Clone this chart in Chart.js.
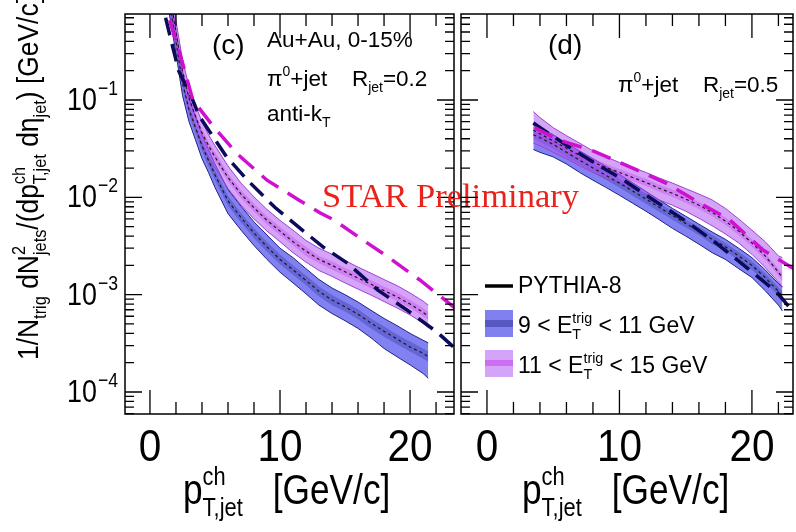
<!DOCTYPE html>
<html>
<head>
<meta charset="utf-8">
<script src="https://cdn.jsdelivr.net/npm/chart.js@4.4.1/dist/chart.umd.min.js"></script>
<style>
  body { margin: 0; background: #fff; overflow: hidden; }
  canvas { position: absolute; left: 0; top: 0; }
</style>
</head>
<body>
<canvas id="c1" width="796" height="532"></canvas>
<canvas id="c2" width="796" height="532"></canvas>
<script>
// --- panel (c): R_jet = 0.2 ---
const xC = [1.4, 2, 2.5, 3, 3.5, 4, 4.5, 5, 6, 7, 8, 9, 10, 11, 12, 13, 14, 15, 16, 17, 18, 19, 20, 21, 21.4];
const blueC     = [1.2, 0.40, 0.15, 0.08, 0.052, 0.034, 0.024, 0.017, 0.0092, 0.0062, 0.0043, 0.0031, 0.0023, 0.0018, 0.0014, 0.00108, 0.00088, 0.00075, 0.00063, 0.00051, 0.00042, 0.00035, 0.00029, 0.00025, 0.00023];
const blueCHi   = [1.6, 0.52, 0.195, 0.104, 0.068, 0.044, 0.031, 0.022, 0.012, 0.0081, 0.0056, 0.0041, 0.0030, 0.0024, 0.00185, 0.00143, 0.00117, 0.001, 0.00084, 0.00069, 0.00057, 0.00048, 0.0004, 0.00034, 0.00032];
const blueCLo   = [0.9, 0.30, 0.112, 0.06, 0.039, 0.025, 0.018, 0.0126, 0.0068, 0.0046, 0.0032, 0.0023, 0.0017, 0.00132, 0.00102, 0.00078, 0.00064, 0.00054, 0.00045, 0.00036, 0.00028, 0.00023, 0.00019, 0.000155, 0.000138];
const blueCInHi = [1.35, 0.45, 0.168, 0.09, 0.058, 0.038, 0.027, 0.019, 0.0103, 0.0069, 0.0048, 0.00347, 0.00258, 0.002, 0.00157, 0.00121, 0.00099, 0.00084, 0.00071, 0.00057, 0.00047, 0.00039, 0.00033, 0.00028, 0.00026];
const blueCInLo = [1.07, 0.357, 0.134, 0.071, 0.046, 0.03, 0.021, 0.015, 0.0082, 0.0055, 0.0038, 0.00276, 0.00205, 0.0016, 0.00125, 0.00096, 0.00078, 0.00067, 0.00056, 0.00045, 0.00037, 0.00031, 0.00026, 0.00022, 0.000205];
const pinkC     = [1.5, 0.5, 0.2, 0.105, 0.068, 0.046, 0.034, 0.026, 0.016, 0.0108, 0.0078, 0.0058, 0.0045, 0.0035, 0.0028, 0.0023, 0.002, 0.00172, 0.00148, 0.00128, 0.0011, 0.00095, 0.0008, 0.00066, 0.0006];
const pinkCHi   = [1.95, 0.65, 0.26, 0.137, 0.088, 0.06, 0.044, 0.034, 0.021, 0.014, 0.0101, 0.0075, 0.0058, 0.0046, 0.0036, 0.003, 0.0026, 0.00224, 0.00192, 0.00166, 0.00143, 0.00124, 0.00104, 0.00086, 0.00078];
const pinkCLo   = [1.15, 0.385, 0.154, 0.081, 0.052, 0.035, 0.026, 0.02, 0.0123, 0.0083, 0.006, 0.0045, 0.0035, 0.0027, 0.00216, 0.00177, 0.00154, 0.00132, 0.00114, 0.00099, 0.00085, 0.00073, 0.00062, 0.00051, 0.00046];
const pinkCInHi = [1.65, 0.55, 0.22, 0.116, 0.075, 0.051, 0.037, 0.029, 0.0176, 0.0119, 0.0086, 0.0064, 0.005, 0.0039, 0.0031, 0.0025, 0.0022, 0.00189, 0.00163, 0.00141, 0.00121, 0.00105, 0.00088, 0.00073, 0.00066];
const pinkCInLo = [1.36, 0.455, 0.182, 0.095, 0.062, 0.042, 0.031, 0.0236, 0.0145, 0.0098, 0.0071, 0.0053, 0.0041, 0.0032, 0.0025, 0.0021, 0.0018, 0.00156, 0.00135, 0.00116, 0.001, 0.00086, 0.00073, 0.0006, 0.00055];
// PYTHIA-8, panel (c)
const navyCx = [1.2, 2.2, 3.2, 3.8, 5.9, 7.5, 9.6, 11.9, 13.3, 15.2, 17.5, 19.8, 22.1, 23.6];
const navyCy = [0.7, 0.2, 0.107, 0.068, 0.026, 0.015, 0.0079, 0.0044, 0.0031, 0.0021, 0.00112, 0.00069, 0.00041, 0.00027];
const magCx = [1.5, 2.3, 3.3, 4.8, 6.7, 9.0, 11.5, 13.1, 14.1, 16.7, 18.2, 20.8, 23.5];
const magCy = [0.66, 0.3, 0.1, 0.055, 0.028, 0.015, 0.0093, 0.0069, 0.0059, 0.0034, 0.0025, 0.0014, 0.00072];

// --- panel (d): R_jet = 0.5 ---
const xD = [3.5, 4, 5, 6, 7, 8, 9, 10, 11, 12, 13, 14, 15, 16, 17, 18, 19, 20, 21, 22, 22.3];
const blueD     = [0.044, 0.041, 0.035, 0.029, 0.024, 0.02, 0.0168, 0.014, 0.0116, 0.0096, 0.0079, 0.0065, 0.0054, 0.0045, 0.0037, 0.0031, 0.0025, 0.002, 0.0015, 0.00108, 0.00097];
const blueDHi   = [0.056, 0.052, 0.044, 0.036, 0.030, 0.025, 0.0208, 0.0172, 0.0141, 0.0115, 0.0094, 0.0077, 0.0064, 0.0053, 0.0044, 0.0037, 0.003, 0.0024, 0.0018, 0.0013, 0.0012];
const blueDLo   = [0.031, 0.029, 0.026, 0.022, 0.018, 0.015, 0.0126, 0.0105, 0.0087, 0.0072, 0.0059, 0.0048, 0.004, 0.0033, 0.0027, 0.0023, 0.00185, 0.0015, 0.0011, 0.00078, 0.00068];
const blueDInHi = [0.048, 0.045, 0.0385, 0.032, 0.0264, 0.022, 0.0185, 0.0154, 0.0128, 0.0106, 0.0087, 0.0072, 0.0059, 0.005, 0.0041, 0.0034, 0.00275, 0.0022, 0.00165, 0.00119, 0.00107];
const blueDInLo = [0.04, 0.037, 0.0315, 0.026, 0.0216, 0.018, 0.0151, 0.0126, 0.0104, 0.0086, 0.0071, 0.0059, 0.0049, 0.0041, 0.0033, 0.0028, 0.00225, 0.0018, 0.00135, 0.00097, 0.00087];
const pinkD     = [0.049, 0.045, 0.038, 0.032, 0.027, 0.023, 0.0202, 0.018, 0.016, 0.0142, 0.0124, 0.011, 0.0096, 0.0083, 0.007, 0.0057, 0.0045, 0.0034, 0.0025, 0.0017, 0.0015];
const pinkDHi   = [0.076, 0.066, 0.052, 0.043, 0.036, 0.030, 0.026, 0.0228, 0.0203, 0.018, 0.0158, 0.014, 0.0123, 0.0108, 0.0094, 0.0077, 0.006, 0.0046, 0.0035, 0.0025, 0.0024];
const pinkDLo   = [0.036, 0.034, 0.029, 0.025, 0.021, 0.018, 0.0158, 0.0141, 0.0125, 0.0108, 0.0094, 0.0083, 0.0072, 0.0061, 0.0051, 0.0042, 0.0034, 0.0026, 0.0019, 0.00135, 0.0012];
const pinkDInHi = [0.0534, 0.049, 0.0414, 0.0349, 0.0294, 0.0251, 0.022, 0.0196, 0.0174, 0.0155, 0.0135, 0.012, 0.0105, 0.009, 0.0076, 0.0062, 0.0049, 0.0037, 0.0027, 0.00185, 0.00164];
const pinkDInLo = [0.045, 0.0414, 0.035, 0.0294, 0.0248, 0.0212, 0.0186, 0.0166, 0.0147, 0.0131, 0.0114, 0.0101, 0.0088, 0.0076, 0.0064, 0.0052, 0.0041, 0.0031, 0.0023, 0.00156, 0.00138];
// PYTHIA-8, panel (d)
const navyDx = [3.5, 5.5, 7.8, 10.3, 12.5, 15.1, 17.4, 19.6, 21.9, 23.3];
const navyDy = [0.058, 0.038, 0.024, 0.0151, 0.0095, 0.0056, 0.0033, 0.0019, 0.00105, 0.00062];
const magDx = [3.6, 5.4, 8.0, 11.0, 13.5, 16.1, 18.3, 20.8, 23.3];
const magDy = [0.052, 0.039, 0.030, 0.020, 0.014, 0.0087, 0.0059, 0.0029, 0.0018];

// ticks
const xTickLabels = [0, 10, 20];
const yTickExps = [-1, -2, -3, -4];

const FONT = '"Liberation Sans", Arial, Helvetica, sans-serif';
const SERIF = '"Liberation Serif", "Times New Roman", serif';

const BLUE_FILL = 'rgba(75,75,235,0.70)';
const BLUE_IN = 'rgba(30,30,140,0.28)';
const BLUE_EDGE = '#20208a';
const PINK_FILL = 'rgba(175,90,240,0.55)';
const PINK_IN = 'rgba(200,60,235,0.35)';
const PINK_EDGE = '#a040d0';
const NONE = 'rgba(0,0,0,0)';

function pts(xs, ys) {
    return xs.map((x, i) => ({ x: x, y: ys[i] }));
}

// two datasets, the second one filled down to the first
function band(xs, lo, hi, edge, col, order) {
    return [
        { data: pts(xs, lo), borderColor: edge, borderWidth: 1, fill: false, order: order },
        { data: pts(xs, hi), borderColor: edge, borderWidth: 1, backgroundColor: col, fill: '-1', order: order }
    ];
}

function dotted(xs, ys) {
    return { data: pts(xs, ys), borderColor: '#1a1a1a', borderWidth: 1.2, borderDash: [3, 3], fill: false, order: 3 };
}

function dashed(xs, ys, col, dash, order) {
    return { data: pts(xs, ys), borderColor: col, borderWidth: 3.5, borderDash: dash, fill: false, order: order };
}

function drawRich(ctx, parts, x, y, F, hs, align) {
    const fs = F * 0.62;
    ctx.save();
    const wOf = (s, size) => { ctx.font = size + 'px ' + FONT; return ctx.measureText(s).width; };
    const widths = parts.map(p => {
        if (typeof p === 'string') return wOf(p, F);
        if (p.gap) return p.gap / hs;
        return Math.max(p.sup ? wOf(p.sup, fs) : 0, p.sub ? wOf(p.sub, fs) : 0);
    });
    const total = widths.reduce((a, b) => a + b, 0) * hs;
    const x0 = align === 'center' ? x - total / 2 : (align === 'right' ? x - total : x);
    ctx.translate(x0, y);
    ctx.scale(hs, 1);
    ctx.textAlign = 'left';
    ctx.textBaseline = 'alphabetic';
    let cx = 0;
    parts.forEach((p, i) => {
        if (typeof p === 'string') {
            ctx.font = F + 'px ' + FONT;
            ctx.fillText(p, cx, 0);
        } else if (!p.gap) {
            ctx.font = fs + 'px ' + FONT;
            if (p.sup) ctx.fillText(p.sup, cx, -F * 0.45);
            if (p.sub) ctx.fillText(p.sub, cx, F * 0.28);
        }
        cx += widths[i];
    });
    ctx.restore();
}

const framePlugin = {
    id: 'frame',
    afterDraw(chart) {
        const { ctx, chartArea: a, scales: { x, y } } = chart;
        ctx.save();
        ctx.strokeStyle = '#000';
        ctx.lineWidth = 1.5;
        ctx.strokeRect(a.left, a.top, a.right - a.left, a.bottom - a.top);
        ctx.lineWidth = 1.3;
        ctx.beginPath();
        for (let e = -5; e <= 0; e++) {
            for (let k = 1; k <= 9; k++) {
                const v = k * Math.pow(10, e);
                if (v < y.min || v > y.max) continue;
                const py = y.getPixelForValue(v);
                const len = k === 1 ? 17 : 9;
                ctx.moveTo(a.left, py); ctx.lineTo(a.left + len, py);
                ctx.moveTo(a.right, py); ctx.lineTo(a.right - len, py);
            }
        }
        for (let v = -2; v <= 24; v += 2) {
            if (v < x.min || v > x.max) continue;
            const px = x.getPixelForValue(v);
            const len = v % 10 === 0 ? 24 : 12;
            ctx.moveTo(px, a.bottom); ctx.lineTo(px, a.bottom - len);
            ctx.moveTo(px, a.top); ctx.lineTo(px, a.top + len);
        }
        ctx.stroke();

        ctx.fillStyle = '#000';
        xTickLabels.forEach(v => {
            drawRich(ctx, [String(v)], x.getPixelForValue(v), 461, 45, 0.9, 'center');
        });
        const lx = chart.canvas.id === 'c1' ? 183 : 522;
        drawRich(ctx, ['p', { sup: 'ch', sub: 'T,jet' }, { gap: 30 }, '[GeV/c]'], lx, 504, 42, 0.84, 'left');

        if (chart.canvas.id === 'c1') {
            yTickExps.forEach(e => {
                const py = y.getPixelForValue(Math.pow(10, e));
                drawRich(ctx, ['10'], 97, py + 10, 32, 0.84, 'right');
                drawRich(ctx, ['\u2212' + Math.abs(e)], 98, py - 5, 21, 0.84, 'left');
            });
            ctx.save();
            ctx.translate(38, 360);
            ctx.rotate(-Math.PI / 2);
            drawRich(ctx, ['1/N', { sub: 'trig' }, ' dN', { sup: '2', sub: 'jets' }, '/(dp', { sup: 'ch', sub: 'T,jet' },
                ' d\u03b7', { sub: 'jet' }, ') [GeV/c]', { sup: '\u22121' }], 0, 0, 30, 0.88, 'left');
            ctx.restore();
        }
        ctx.restore();
    }
};

const labelsC = {
    id: 'labelsC',
    afterDraw(chart) {
        const ctx = chart.ctx;
        ctx.save();
        ctx.fillStyle = '#000';
        drawRich(ctx, ['(c)'], 212, 54, 28, 1, 'left');
        drawRich(ctx, ['Au+Au, 0-15%'], 267, 47, 22.5, 1, 'left');
        drawRich(ctx, ['\u03c0', { sup: '0' }, '+jet'], 267, 86, 22.5, 1, 'left');
        drawRich(ctx, ['R', { sub: 'jet' }, '=0.2'], 352, 86, 22.5, 1, 'left');
        drawRich(ctx, ['anti-k', { sub: 'T' }], 267, 121, 22.5, 1, 'left');
        ctx.restore();
    }
};

const labelsD = {
    id: 'labelsD',
    afterDatasetsDraw(chart) {
        const ctx = chart.ctx;
        ctx.save();
        ctx.fillStyle = '#e8231c';
        ctx.font = '34.5px ' + SERIF;
        ctx.textBaseline = 'alphabetic';
        ctx.fillText('STAR Preliminary', 322, 207);
        ctx.restore();
    },
    afterDraw(chart) {
        const ctx = chart.ctx;
        ctx.save();
        ctx.fillStyle = '#000';
        drawRich(ctx, ['(d)'], 548, 54, 28, 1, 'left');
        drawRich(ctx, ['\u03c0', { sup: '0' }, '+jet'], 618, 92, 22.5, 1, 'left');
        drawRich(ctx, ['R', { sub: 'jet' }, '=0.5'], 703, 92, 22.5, 1, 'left');

        // legend
        ctx.strokeStyle = '#000';
        ctx.lineWidth = 3.5;
        ctx.beginPath(); ctx.moveTo(485, 286); ctx.lineTo(513, 286); ctx.stroke();
        ctx.fillStyle = 'rgb(128,128,240)';
        ctx.fillRect(485, 310, 28, 27);
        ctx.fillStyle = 'rgb(88,88,195)';
        ctx.fillRect(485, 320, 28, 7);
        ctx.fillStyle = 'rgb(211,164,247)';
        ctx.fillRect(485, 350, 28, 27);
        ctx.fillStyle = 'rgb(205,110,242)';
        ctx.fillRect(485, 360, 28, 6);
        ctx.fillStyle = '#000';
        drawRich(ctx, ['PYTHIA-8'], 518, 293, 23, 1, 'left');
        drawRich(ctx, ['9 < E', { sup: 'trig', sub: 'T' }, ' < 11 GeV'], 518, 333, 23, 1, 'left');
        drawRich(ctx, ['11 < E', { sup: 'trig', sub: 'T' }, ' < 15 GeV'], 518, 373, 23, 1, 'left');
        ctx.restore();
    }
};

function makeChart(id, xMin, xMax, padL, padR, datasets, extra) {
    return new Chart(document.getElementById(id), {
        type: 'line',
        data: { datasets: datasets },
        options: {
            responsive: false,
            animation: false,
            devicePixelRatio: 1,
            layout: { padding: { left: padL, right: padR, top: 14, bottom: 118 } },
            elements: { point: { radius: 0 }, line: { tension: 0 } },
            plugins: { legend: { display: false }, tooltip: { enabled: false } },
            scales: {
                x: { type: 'linear', min: xMin, max: xMax, display: false },
                y: { type: 'logarithmic', min: 5.94e-5, max: 0.765, display: false }
            }
        },
        plugins: [extra, framePlugin]
    });
}

const dsC = [].concat(
    band(xC, blueCLo, blueCHi, BLUE_EDGE, BLUE_FILL, 8),
    band(xC, blueCInLo, blueCInHi, NONE, BLUE_IN, 7),
    band(xC, pinkCLo, pinkCHi, PINK_EDGE, PINK_FILL, 6),
    band(xC, pinkCInLo, pinkCInHi, NONE, PINK_IN, 5),
    [dotted(xC, blueC), dotted(xC, pinkC),
     dashed(navyCx, navyCy, '#0b0b5a', [18, 9], 2),
     dashed(magCx, magCy, '#d010d0', [20, 11], 1)]
);

const dsD = [].concat(
    band(xD, blueDLo, blueDHi, BLUE_EDGE, BLUE_FILL, 8),
    band(xD, blueDInLo, blueDInHi, NONE, BLUE_IN, 7),
    band(xD, pinkDLo, pinkDHi, PINK_EDGE, PINK_FILL, 6),
    band(xD, pinkDInLo, pinkDInHi, NONE, PINK_IN, 5),
    [dotted(xD, blueD), dotted(xD, pinkD),
     dashed(navyDx, navyDy, '#0b0b5a', [18, 9], 2),
     dashed(magDx, magDy, '#d010d0', [20, 11], 1)]
);

makeChart('c1', -1.92, 23.38, 125, 342, dsC, labelsC);
makeChart('c2', -1.96, 23.1, 461, 3, dsD, labelsD);
</script>
</body>
</html>
